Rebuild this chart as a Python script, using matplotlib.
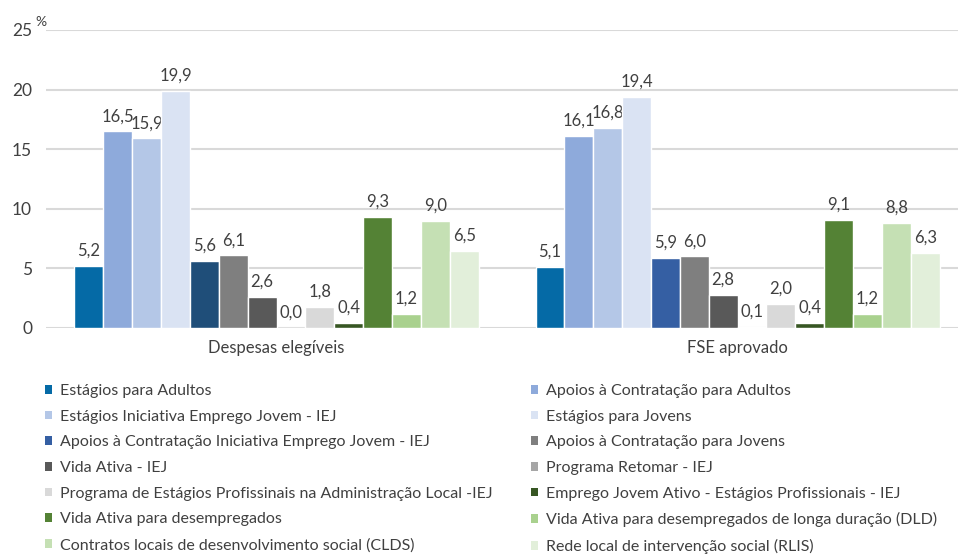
import numpy as np
import matplotlib.pyplot as plt
from matplotlib.patches import Patch

plt.rcParams['font.family'] = ['Lato', 'DejaVu Sans']

# data
groups = ['Despesas elegíveis', 'FSE aprovado']
series = ['Estágios para Adultos',
          'Apoios à Contratação para Adultos',
          'Estágios Iniciativa Emprego Jovem - IEJ',
          'Estágios para Jovens',
          'Apoios à Contratação Iniciativa Emprego Jovem - IEJ',
          'Apoios à Contratação para Jovens',
          'Vida Ativa - IEJ',
          'Programa Retomar - IEJ',
          'Programa de Estágios Profissinais na Administração Local -IEJ',
          'Emprego Jovem Ativo - Estágios Profissionais - IEJ',
          'Vida Ativa para desempregados',
          'Vida Ativa para desempregados de longa duração (DLD)',
          'Contratos locais de desenvolvimento social (CLDS)',
          'Rede local de intervenção social (RLIS)']
despesas = [5.2, 16.5, 15.9, 19.9, 5.6, 6.1, 2.6, 0.0, 1.8, 0.4, 9.3, 1.2, 9.0, 6.5]
fse = [5.1, 16.1, 16.8, 19.4, 5.9, 6.0, 2.8, 0.1, 2.0, 0.4, 9.1, 1.2, 8.8, 6.3]
colors = ['#056aa6', '#8eaadb', '#b4c7e7', '#dae3f3', '#355fa3', '#7f7f7f', '#595959',
          '#a6a6a6', '#d9d9d9', '#375623', '#548235', '#a9d18e', '#c5e0b4', '#e2efda']
# first group's IEJ hiring bar is drawn darker in the original
first_group_override = {4: '#1f4e79'}

fig = plt.figure(figsize=(9.58, 5.54), dpi=100)
ax = fig.add_axes([46/958, 1-328/554, 912/958, 298/554])

n = len(series)
w = 0.0626
vals = np.array([despesas, fse])
x = np.arange(len(groups))
for i in range(n):
    pos = x + (i - (n - 1) / 2) * w
    cols = [first_group_override.get(i, colors[i]), colors[i]]
    ax.bar(pos, vals[:, i], width=w, color=cols, edgecolor='white', linewidth=1, zorder=3)
    for px, v in zip(pos, vals[:, i]):
        ax.text(px, v + 0.6, f'{v:.1f}'.replace('.', ','), ha='center', va='bottom',
                fontsize=12, color='#404040')

ax.set_xlim(-0.5, 1.478)
ax.set_ylim(0, 25)
ax.set_yticks([0, 5, 10, 15, 20, 25])
ax.grid(axis='y', color='#d9d9d9', linewidth=1.5, zorder=0)
for s in ['top', 'right', 'left', 'bottom']:
    ax.spines[s].set_visible(False)
ax.tick_params(axis='both', length=0, labelsize=12.5, colors='#404040', pad=10)
ax.set_xticks(x)
ax.set_xticklabels(groups, fontsize=12)
ax.tick_params(axis='x', pad=9)
ax.text(-0.522, 25.15, '%', fontsize=10, color='#404040', ha='left', va='bottom',
        clip_on=False)

handles = [Patch(facecolor=c, label=s) for c, s in zip(colors, series)]
legkw = dict(ncol=1, loc='upper left', frameon=False, fontsize=11.5,
             handlelength=0.45, handleheight=0.45, handletextpad=0.5,
             labelspacing=0.73, labelcolor='#404040', borderaxespad=0, borderpad=0)
fig.legend(handles=handles[0::2], bbox_to_anchor=(45/958, 1-384/554), **legkw)
fig.legend(handles=handles[1::2], bbox_to_anchor=(531/958, 1-384/554), **legkw)

fig.savefig('out.png', dpi=100)
